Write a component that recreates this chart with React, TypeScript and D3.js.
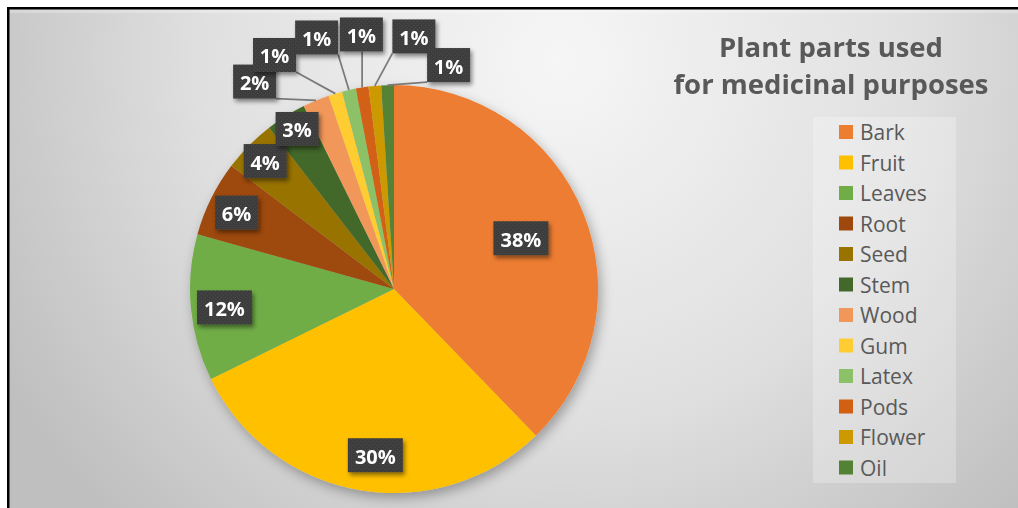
import React from "react";
import * as d3 from "d3";

const categories = ["Bark", "Fruit", "Leaves", "Root", "Seed", "Stem", "Wood", "Gum", "Latex", "Pods", "Flower", "Oil"];
const values = [37.8, 30.0, 11.6, 6.0, 4.2, 3.2, 2.1, 1.1, 1.1, 1.0, 1.0, 1.0];
const colors = ["#ED7D31", "#FFC000", "#70AD47", "#9E480E", "#997300", "#43682B", "#F1975A", "#FFCD33", "#8CC168", "#D26012", "#CC9A00", "#548235"];
const titleLines = ["Plant parts used", "for medicinal purposes"];

// label layout (polar: angle in degrees clockwise from 12 o'clock, radius factor)
const labelAngles = [68.2, 186.4, 263.8, 295.9, 314.8, 328.8, 326.1, 332.95, 342.9, 352.7, 364.5, 373.7];
const labelRadii = [0.67, 0.82, 0.836, 0.858, 0.89, 0.917, 1.225, 1.288, 1.29, 1.258, 1.242, 1.13];

const W = 1018;
const H = 508;
const cx = 394;
const cy = 289;
const R = 204;
const FONT = "'Open Sans', 'Noto Sans', sans-serif";

export default function App() {
  const total = d3.sum(values);
  const pie = d3.pie<number>().sort(null).value((d) => d);
  const arcs = pie(values);
  const arcGen = d3.arc<d3.PieArcDatum<number>>().innerRadius(0).outerRadius(R);

  const labels = arcs.map((a, i) => {
    const pct = Math.round((values[i] / total) * 100) + "%";
    const ang = (labelAngles[i] * Math.PI) / 180;
    const lx = cx + Math.sin(ang) * R * labelRadii[i];
    const ly = cy - Math.cos(ang) * R * labelRadii[i];
    const w = pct.length >= 3 ? 55 : 43;
    const h = 34;
    const outside = labelRadii[i] > 1;
    let line: null | [number, number, number, number] = null;
    if (outside) {
      const mid = (a.startAngle + a.endAngle) / 2;
      const sx = cx + Math.sin(mid) * R;
      const sy = cy - Math.cos(mid) * R;
      const ex = Math.max(lx - w / 2, Math.min(sx, lx + w / 2));
      const ey = Math.max(ly - h / 2, Math.min(sy, ly + h / 2));
      line = [sx, sy, ex, ey];
    }
    return { pct, lx, ly, w, h, line };
  });

  const legendX = 839;
  const legendY0 = 132;
  const legendStep = 30.5;

  return (
    <svg width={W} height={H} style={{ position: "absolute", left: 0, top: 0, display: "block" }} fontFamily={FONT}>
      <defs>
        <radialGradient id="bg" gradientUnits="userSpaceOnUse" cx={560} cy={60} r={640}>
          <stop offset="0" stopColor="#f6f6f6" />
          <stop offset="0.55" stopColor="#e0e0e0" />
          <stop offset="1" stopColor="#bfbfbf" />
        </radialGradient>
        <filter id="pieShadow" x="-20%" y="-20%" width="140%" height="140%">
          <feDropShadow dx="3" dy="5" stdDeviation="6" floodColor="#000" floodOpacity="0.3" />
        </filter>
        <filter id="boxShadow" x="-30%" y="-30%" width="160%" height="160%">
          <feDropShadow dx="2" dy="3" stdDeviation="2" floodColor="#000" floodOpacity="0.45" />
        </filter>
        <pattern id="dots" width="4" height="4" patternUnits="userSpaceOnUse">
          <rect width="4" height="4" fill="#3e3e3e" />
          <rect x="1" y="1" width="1" height="1" fill="#4d4d4d" />
          <rect x="3" y="3" width="1" height="1" fill="#4a4a4a" />
        </pattern>
      </defs>
      <rect x={0} y={0} width={W} height={H} fill="#ffffff" />
      <rect x={8} y={8} width={W} height={H} fill="url(#bg)" />
      <rect x={9} y={9} width={W} height={4} fill="#ffffff" opacity={0.25} />
      <rect x={8.25} y={8.25} width={W + 10} height={H + 10} fill="none" stroke="#000" strokeWidth={2.5} />

      <g filter="url(#pieShadow)">
        {arcs.map((a, i) => (
          <path key={categories[i]} d={arcGen(a) || ""} transform={`translate(${cx},${cy})`} fill={colors[i]} />
        ))}
      </g>

      <g>
        {labels.map((l, i) =>
          l.line ? (
            <line key={"ln" + i} x1={l.line[0]} y1={l.line[1]} x2={l.line[2]} y2={l.line[3]} stroke="#7a7a7a" strokeWidth={1.75} />
          ) : null
        )}
      </g>

      <g>
        {labels.map((l, i) => (
          <g key={"lb" + i}>
            <rect x={l.lx - l.w / 2} y={l.ly - l.h / 2} width={l.w} height={l.h} fill="url(#dots)" filter="url(#boxShadow)" />
            <text x={l.lx} y={l.ly + 1} textAnchor="middle" dominantBaseline="central" fill="#ffffff" fontWeight="bold" fontSize={20}>
              {l.pct}
            </text>
          </g>
        ))}
      </g>

      <g fill="#595959" fontWeight="bold" fontSize={27.5} textAnchor="middle">
        {titleLines.map((t, i) => (
          <text key={t} x={831} y={57 + i * 36.5}>
            {t}
          </text>
        ))}
      </g>

      <rect x={813} y={117} width={143} height={366} fill="#ffffff" opacity={0.25} />
      <g>
        {categories.map((c, i) => (
          <g key={c} transform={`translate(${legendX},${legendY0 + i * legendStep})`}>
            <rect x={0} y={-7} width={14} height={14} fill={colors[i]} />
            <text x={21} y={0} dominantBaseline="central" fill="#595959" fontSize={21}>
              {c}
            </text>
          </g>
        ))}
      </g>
    </svg>
  );
}
